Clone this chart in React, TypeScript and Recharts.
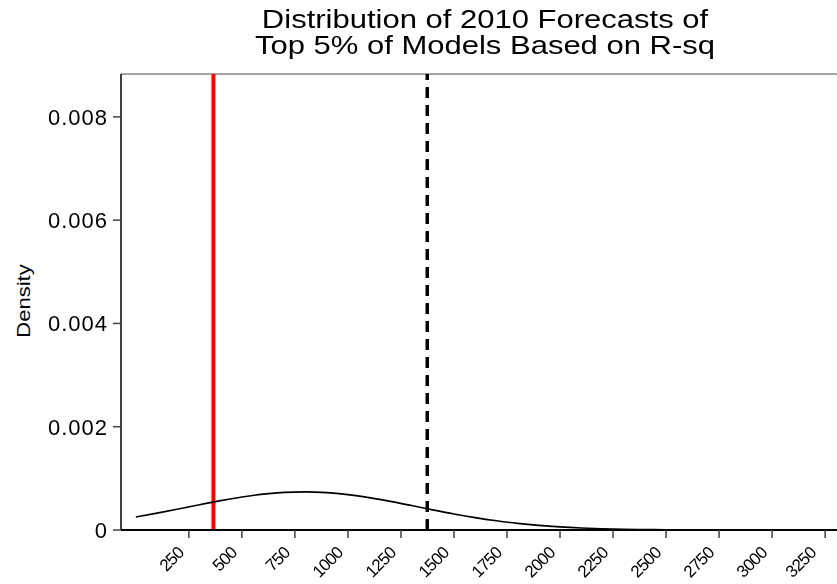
import { LineChart, Line, XAxis, YAxis, ReferenceLine } from "recharts";

// kernel density estimate of the forecasts, sampled every 100 units
const forecastValues = [
  0, 100, 200, 300, 400, 500, 600, 700, 800, 900, 1000, 1100, 1200, 1300, 1400,
  1500, 1600, 1700, 1800, 1900, 2000, 2100, 2200, 2300, 2400, 2500, 2600, 2700,
  2800, 2900, 3000, 3100, 3200, 3300,
];
const densityValues = [
  0.000253, 0.000327, 0.000407, 0.00049, 0.000569, 0.00064, 0.000695, 0.000729,
  0.000739, 0.000724, 0.000685, 0.000627, 0.000554, 0.000473, 0.00039, 0.000311,
  0.00024, 0.000179, 0.000128, 0.000089, 0.00006, 0.000039, 0.0000245, 0.0000148,
  0.0000087, 0.000005, 0.0000027, 0.0000014, 0.0000007, 0.0000003, 0.0000001, 0,
  0, 0,
];

const xTicks = [250, 500, 750, 1000, 1250, 1500, 1750, 2000, 2250, 2500, 2750, 3000, 3250];
const yTicks = [0, 0.002, 0.004, 0.006, 0.008];

const actualValue = 366;
const meanForecast = 1374;

const X_DOMAIN: [number, number] = [-70, 3306];
const Y_MAX = 0.00883;

const data = forecastValues.map((x, i) => ({ x, density: densityValues[i] }));

const FONT = "'Liberation Sans', Arial, sans-serif";

function XTick(props: any) {
  const { x, y, payload } = props;
  const ax = x - 4;
  const ay = y + 14;
  return (
    <text
      transform={`translate(${ax} ${ay}) rotate(-45)`}
      textAnchor="end"
      fontSize={17}
      fontFamily={FONT}
      letterSpacing={-0.8}
      fill="#000"
    >
      {payload.value}
    </text>
  );
}

export default function App() {
  return (
    <div style={{ position: "fixed", left: 0, top: 0, width: 837, height: 584, background: "#fff", fontFamily: FONT }}>
      <div
        style={{
          position: "absolute",
          left: 0,
          width: 970,
          top: 6,
          textAlign: "center",
          fontSize: 25,
          lineHeight: "26px",
          color: "#000",
          transform: "scaleX(1.24)",
          transformOrigin: "485px 0",
        }}
      >
        Distribution of 2010 Forecasts of
        <br />
        Top 5% of Models Based on R-sq
      </div>
      <div
        style={{
          position: "absolute",
          left: 24 - 60,
          top: 301 - 12,
          width: 120,
          height: 24,
          lineHeight: "24px",
          textAlign: "center",
          fontSize: 19,
          color: "#000",
          transform: "rotate(-90deg) scaleX(1.16)",
          transformOrigin: "60px 12px",
        }}
      >
        Density
      </div>
      <LineChart
        width={837}
        height={584}
        data={data}
        margin={{ top: 74, right: 0, bottom: 0, left: 0 }}
        style={{ position: "absolute", left: 0, top: 0 }}
      >
        <XAxis
          dataKey="x"
          type="number"
          domain={X_DOMAIN}
          ticks={xTicks}
          allowDataOverflow
          height={54}
          tickSize={8}
          tick={<XTick />}
          axisLine={{ stroke: "#000", strokeWidth: 2 }}
          tickLine={{ stroke: "#444", strokeWidth: 1.5 }}
        />
        <YAxis
          type="number"
          domain={[0, Y_MAX]}
          ticks={yTicks}
          allowDataOverflow
          width={121}
          tickSize={8}
          tickMargin={5}
          tickFormatter={(v: number) => (v === 0 ? "0" : v.toFixed(3))}
          tick={{ fill: "#000", fontSize: 22, fontFamily: FONT, letterSpacing: 1 }}
          axisLine={{ stroke: "#000", strokeWidth: 1.5 }}
          tickLine={{ stroke: "#444", strokeWidth: 1.5 }}
        />
        <ReferenceLine y={Y_MAX} stroke="#888" strokeWidth={1.5} />
        <ReferenceLine x={actualValue} stroke="#ff0000" strokeWidth={4} />
        <ReferenceLine x={meanForecast} stroke="#000" strokeWidth={3.5} strokeDasharray="11 7" />
        <Line
          type="monotone"
          dataKey="density"
          stroke="#000"
          strokeWidth={1.6}
          dot={false}
          isAnimationActive={false}
        />
      </LineChart>
    </div>
  );
}
